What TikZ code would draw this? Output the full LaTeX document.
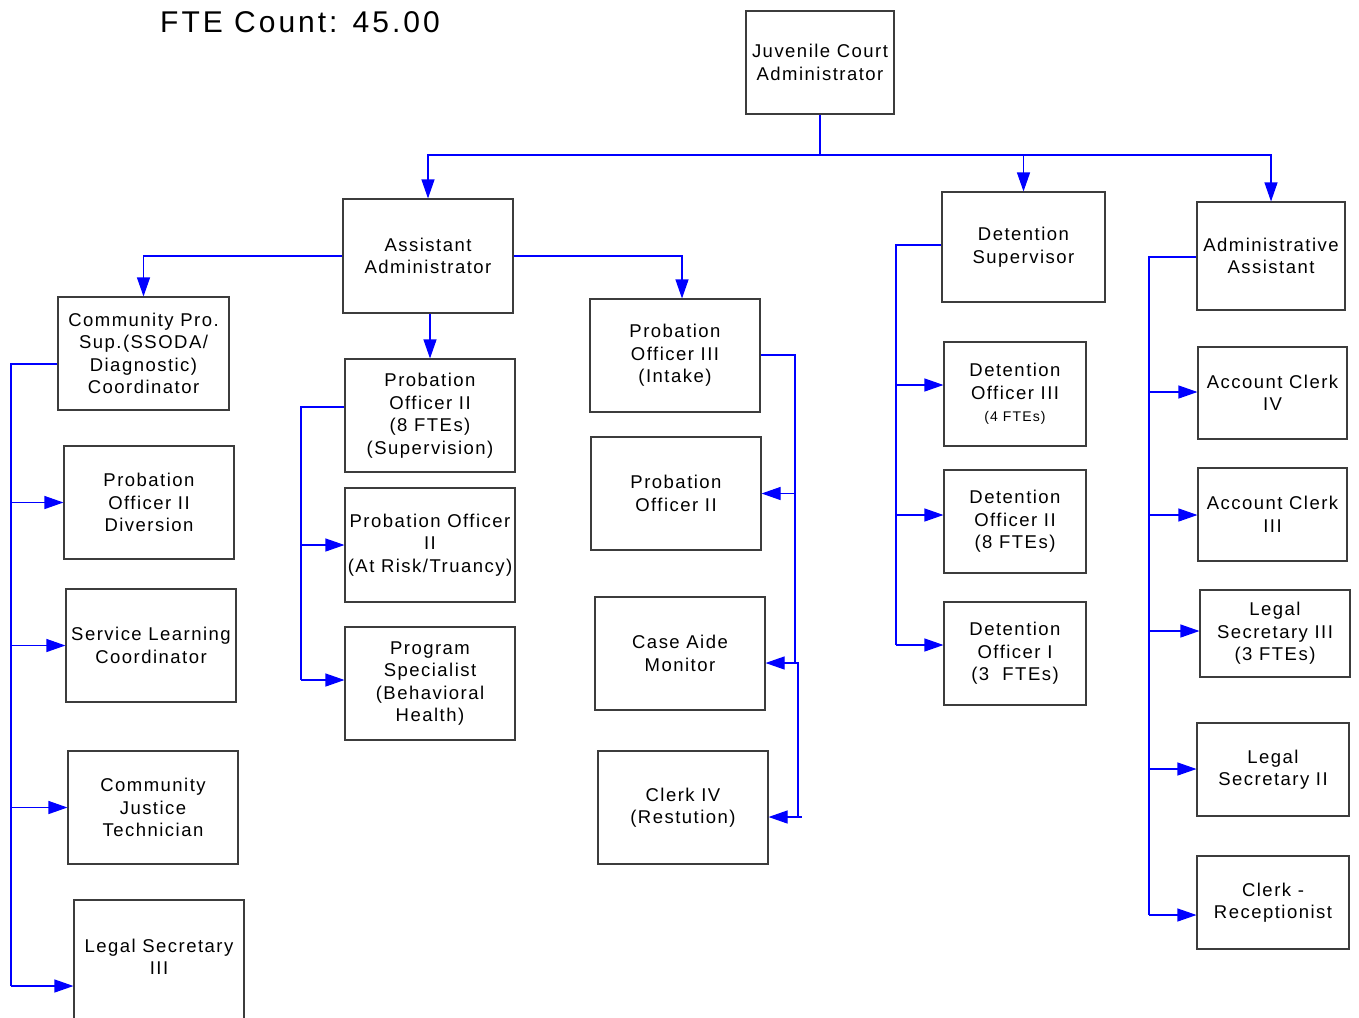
\documentclass[tikz,border=0pt]{standalone}
\usepackage{fontspec}
\setmainfont{Liberation Sans}[LetterSpace=8]
\newfontfamily\titlefont{Liberation Sans}[LetterSpace=10]
\usetikzlibrary{arrows.meta}
\definecolor{boxgray}{HTML}{3C3C3C}
\definecolor{linkblue}{HTML}{0000FF}
\newcommand\bx[6]{\node[box,minimum width={#4-#2},minimum height={#5-#3}] (#1) at ({(#2+#4)/2},{(#3+#5)/2}) {#6};}
\begin{document}
\begin{tikzpicture}[x=1pt,y=-1pt,
  box/.style={draw=boxgray,line width=1.1pt,inner sep=0pt,align=center,font=\fontsize{18.5}{22.5}\selectfont},
  link/.style={draw=linkblue,line width=1.1pt},
  arr/.style={link,-{Triangle[length=19pt,width=13pt]}}]
\useasboundingbox (0,0) rectangle (1359,1017);
\clip (0,0) rectangle (1359,1017);
\node[anchor=west,inner sep=0pt,font=\titlefont\fontsize{30}{36}\selectfont] (title) at (160,22) {FTE Count: 45.00};
% boxes
\bx{jca}{746}{11}{894}{114}{Juvenile Court\\Administrator}
\bx{aa}{343}{199}{513}{313}{Assistant\\Administrator}
\bx{cp}{58}{297}{229}{410}{Community Pro.\\Sup.(SSODA/\\Diagnostic)\\Coordinator}
\bx{pod}{64}{446}{234}{559}{Probation\\Officer II\\Diversion}
\bx{slc}{66}{589}{236}{702}{Service Learning\\Coordinator}
\bx{cjt}{68}{751}{238}{864}{Community\\Justice\\Technician}
\bx{lsl}{74}{900}{244}{1030}{Legal Secretary\\III\\[-6pt]}
\bx{pos}{345}{359}{515}{472}{Probation\\Officer II\\(8 FTEs)\\(Supervision)}
\bx{por}{345}{488}{515}{602}{Probation Officer\\II\\(At Risk/Truancy)}
\bx{ps}{345}{627}{515}{740}{Program\\Specialist\\(Behavioral\\Health)}
\bx{poi}{590}{299}{760}{412}{Probation\\Officer III\\(Intake)}
\bx{pob}{591}{437}{761}{550}{Probation\\Officer II}
\bx{cam}{595}{597}{765}{710}{Case Aide\\Monitor}
\bx{clk}{598}{751}{768}{864}{Clerk IV\\(Restution)}
\bx{ds}{942}{192}{1105}{302}{Detention\\Supervisor}
\bx{dothree}{944}{342}{1086}{446}{Detention\\Officer III\\{\fontsize{14}{17}\selectfont (4 FTEs)}}
\bx{dotwo}{944}{470}{1086}{573}{Detention\\Officer II\\(8 FTEs)}
\bx{doone}{944}{602}{1086}{705}{Detention\\Officer I\\(3\ \ FTEs)}
\bx{adm}{1197}{202}{1345}{310}{Administrative\\Assistant}
\bx{acfour}{1198}{347}{1347}{439}{Account Clerk\\IV}
\bx{acthree}{1198}{468}{1347}{561}{Account Clerk\\III}
\bx{lsthree}{1200}{590}{1350}{677}{Legal\\Secretary III\\(3 FTEs)}
\bx{lstwo}{1197}{723}{1349}{816}{Legal\\Secretary II}
\bx{cr}{1197}{856}{1349}{949}{Clerk -\\Receptionist}
% top bus
\coordinate (bus) at (820,155);
\draw[link] (jca.south) -- (bus);
\draw[arr] (bus) -| (aa.north);
\draw[arr] (bus) -| (ds.north);
\draw[arr] (bus) -| (adm.north);
% assistant administrator
\draw[arr] (aa.west) -| (cp.north);
\draw[arr] (aa.east) -| ([xshift=7pt]poi.north);
\draw[arr] (aa.south -| pos.north) -- (pos.north);
% left trunk
\coordinate (lt) at (11,364);
\coordinate (lb) at (11,986);
\draw[link] (cp.west |- lt) -- (lt) -- (lb);
\draw[arr] (lt |- pod.west) -- (pod.west);
\draw[arr] (lt |- slc.west) -- (slc.west);
\draw[arr] (lt |- cjt.west) -- (cjt.west);
\draw[arr] (lb) -- (lsl.west |- lb);
% middle trunk
\coordinate (mt) at (301,407);
\coordinate (mb) at (301,680);
\draw[link] (pos.west |- mt) -- (mt) -- (mb);
\draw[arr] (mt |- por.west) -- (por.west);
\draw[arr] (mb) -- (ps.west |- mb);
% right trunk of probation
\coordinate (rt) at (795,355);
\coordinate (rb) at (795,663);
\coordinate (rc) at (798,663);
\coordinate (rd) at (798,817);
\draw[link] (poi.east |- rt) -- (rt) -- (rb);
\draw[arr] (rt |- pob.east) -- (pob.east);
\draw[arr] (rb) -- (cam.east |- rb);
\draw[link] (rb) -- (rc) -- (rd) -- ++(4,0);
\draw[arr] (rd) -- (clk.east |- rd);
% detention trunk
\coordinate (dt) at (896,245);
\coordinate (db) at (896,645);
\draw[link] (ds.west |- dt) -- (dt) -- (db);
\draw[arr] (896,385) -- (dothree.west |- 896,385);
\draw[arr] (896,515) -- (dotwo.west |- 896,515);
\draw[arr] (db) -- (doone.west |- db);
% admin trunk
\coordinate (at) at (1149,257);
\coordinate (ab) at (1149,915);
\draw[link] (adm.west |- at) -- (at) -- (ab);
\draw[arr] (1149,392) -- (acfour.west |- 1149,392);
\draw[arr] (1149,515) -- (acthree.west |- 1149,515);
\draw[arr] (1149,631) -- (lsthree.west |- 1149,631);
\draw[arr] (1149,769) -- (lstwo.west |- 1149,769);
\draw[arr] (ab) -- (cr.west |- ab);
\end{tikzpicture}
\end{document}
